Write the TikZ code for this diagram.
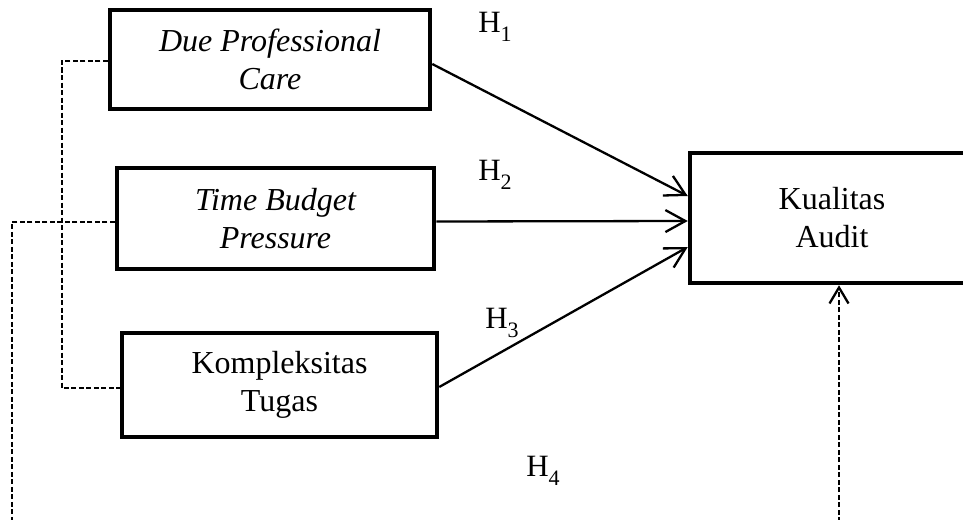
\documentclass[tikz,border=0pt]{standalone}
\usepackage{fontspec}
\setmainfont{Liberation Serif}
\usetikzlibrary{arrows.meta}
\newcommand{\hsub}[1]{H\raisebox{-0.28em}{\fontsize{22}{22}\selectfont #1}}
\tikzset{
  box/.style={draw, line width=4.5pt, rectangle, inner sep=0pt, align=center,
    font=\fontsize{32}{38}\selectfont},
  arr/.style={line width=2.3pt, -{Straight Barb[length=20pt,width=22pt,line width=2.3pt]}},
  dsh/.style={line width=1.8pt, dash pattern=on 5pt off 2.5pt},
  darr/.style={dsh, -{Straight Barb[length=16pt,width=19pt,line width=2.3pt]}},
  hlab/.style={font=\fontsize{31}{36}\selectfont, inner sep=0pt}
}
\begin{document}
\begin{tikzpicture}[x=1pt,y=-1pt]
\useasboundingbox (0,0) rectangle (963,519);
\clip (0,0) rectangle (963,519);
\fill[white] (0,0) rectangle (963,519);
\node[box, minimum width=320pt, minimum height=99pt] (b1) at (270,59.5) {\itshape Due Professional\\\itshape Care};
\node[box, minimum width=317pt, minimum height=101pt] (b2) at (275.5,218.5) {\itshape Time Budget\\\itshape Pressure};
\node[box, minimum width=315pt, minimum height=104pt] (b3) at (279.5,385) {Kompleksitas\\Tugas};
\node[box, minimum width=284pt, minimum height=130pt] (b4) at (832,218) {Kualitas\\Audit};
\node[hlab] (h1) at (495,27) {\hsub{1}};
\node[hlab] (h2) at (495,175) {\hsub{2}};
\node[hlab] (h3) at (502,323) {\hsub{3}};
\node[hlab] (h4) at (543,471) {\hsub{4}};
\draw[arr] ([yshift=-4.5pt]b1.east) -- ([yshift=22pt]b4.west);
\draw[arr] ([yshift=-3pt]b2.east) -- ([yshift=-3pt]b4.west);
\draw[arr] ([yshift=-2pt]b3.east) -- ([yshift=-29pt]b4.west);
\draw[dsh] ([yshift=-1.5pt]b1.west) -- ++(-46,0) |- ([yshift=-3pt]b3.west);
\coordinate (bl) at (12,522);
\coordinate (br) at (839,522);
\draw[dsh] ([yshift=-3.5pt]b2.west) -| (bl);
\draw[darr] (br) -- (br |- b4.south);
\end{tikzpicture}
\end{document}
